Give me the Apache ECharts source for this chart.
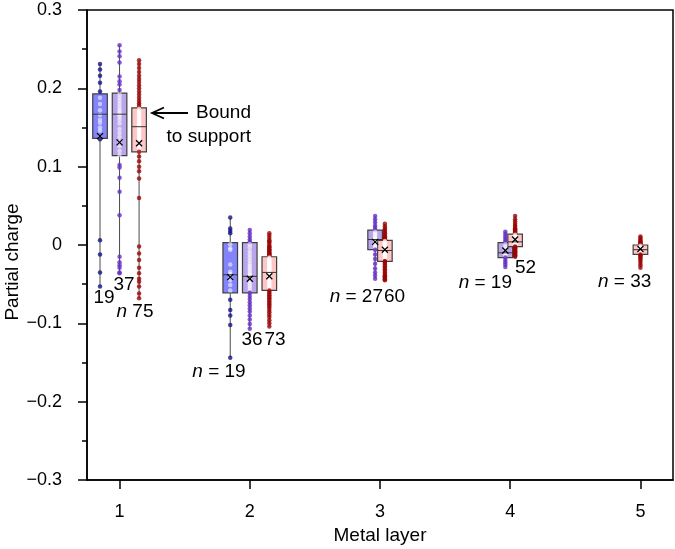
<!DOCTYPE html>
<html><head><meta charset="utf-8">
<script src="https://cdn.jsdelivr.net/npm/echarts@6/dist/echarts.min.js"></script>
<style>html,body{margin:0;padding:0;background:#fff}#c{width:675px;height:549px}</style>
</head><body><div id="c"></div><script>
// ---- data ----
const layerTicks = [1, 2, 3, 4, 5];
const yTicks = [-0.3, -0.2, -0.1, 0, 0.1, 0.2, 0.3];

// stats: [min, Q1, median, Q3, max, mean]
const blue1Stats   = [-0.053, 0.136, 0.167, 0.193, 0.231, 0.139];
const purple1Stats = [-0.036, 0.114, 0.167, 0.194, 0.255, 0.131];
const red1Stats    = [-0.068, 0.119, 0.151, 0.175, 0.236, 0.130];
const blue2Stats   = [-0.144, -0.061, -0.038, 0.003, 0.035, -0.041];
const purple2Stats = [-0.107, -0.061, -0.040, 0.003, 0.019, -0.043];
const red2Stats    = [-0.104, -0.058, -0.035, -0.015, 0.015, -0.040];
const purple3Stats = [-0.043, -0.006, 0.007, 0.019, 0.037, 0.004];
const red3Stats    = [-0.045, -0.021, -0.007, 0.006, 0.027, -0.006];
const purple4Stats = [-0.028, -0.016, -0.010, 0.003, 0.017, -0.007];
const red4Stats    = [-0.015, -0.002, 0.004, 0.014, 0.037, 0.007];
const red5Stats    = [-0.029, -0.012, -0.006, 0.000, 0.011, -0.005];

// individual points
const blue1 = [0.231,0.224,0.216,0.207,0.196,0.188,0.180,0.172,0.166,0.160,0.156,0.150,0.146,0.138,0.135,0.006,-0.012,-0.035,-0.053];
const purple1 = [0.255,0.247,0.241,0.233,0.215,0.209,0.205,0.198,
  0.192,0.188,0.184,0.180,0.176,0.172,0.169,0.167,0.164,0.160,0.155,0.148,0.143,0.138,0.132,0.126,0.120,0.115,
  0.102,0.099,0.086,0.068,0.038,-0.015,-0.022,-0.026,-0.029,-0.035,-0.036];
const red1 = [0.236,0.231,0.226,0.221,0.216,0.212,0.208,0.204,0.200,0.196,0.192,0.188,0.184,0.181,0.178,
  0.175,0.174,0.173,0.171,0.170,0.169,0.167,0.166,0.165,0.163,0.162,0.161,0.159,0.158,0.157,0.156,0.155,0.154,0.153,0.152,0.151,
  0.150,0.149,0.148,0.147,0.146,0.145,0.144,0.143,0.141,0.139,0.138,0.137,0.135,0.133,0.131,0.130,0.129,0.127,0.125,0.123,0.121,0.120,0.119,
  0.113,0.107,0.100,0.094,0.085,0.060,-0.002,-0.011,-0.019,-0.029,-0.036,-0.043,-0.047,-0.053,-0.062,-0.068];
const blue2 = [0.035,0.021,0.018,0.015,0.001,-0.004,-0.006,-0.025,-0.034,-0.037,-0.041,-0.045,-0.051,-0.058,-0.070,-0.083,-0.090,-0.102,-0.144];
const purple2 = [0.019,0.015,0.011,0.007,0.004,0.001,-0.003,-0.008,-0.012,-0.016,-0.020,-0.024,-0.027,-0.030,-0.033,-0.036,-0.038,-0.040,
  -0.041,-0.043,-0.046,-0.049,-0.052,-0.055,-0.058,-0.061,-0.065,-0.069,-0.073,-0.077,-0.081,-0.085,-0.090,-0.095,-0.101,-0.107];
const red2 = [0.015,0.012,0.009,0.006,0.004,0.003,0.000,-0.002,-0.003,-0.005,-0.006,-0.007,-0.009,-0.010,-0.011,-0.012,-0.013,-0.014,
  -0.015,-0.016,-0.017,-0.018,-0.019,-0.020,-0.021,-0.022,-0.023,-0.024,-0.025,-0.026,-0.027,-0.028,-0.029,-0.030,-0.031,-0.032,-0.033,-0.034,
  -0.035,-0.036,-0.037,-0.038,-0.040,-0.041,-0.043,-0.044,-0.046,-0.047,-0.049,-0.050,-0.052,-0.053,-0.055,-0.056,-0.058,
  -0.060,-0.062,-0.064,-0.066,-0.068,-0.070,-0.072,-0.074,-0.076,-0.078,-0.080,-0.083,-0.086,-0.089,-0.092,-0.096,-0.100,-0.104];
const purple3 = [0.037,0.033,0.029,0.025,0.022,0.019,0.017,0.015,0.013,0.011,0.009,0.008,0.007,0.006,0.004,0.002,0.000,-0.002,-0.004,-0.006,
  -0.012,-0.018,-0.024,-0.030,-0.035,-0.039,-0.043];
const red3 = [0.027,0.024,0.021,0.019,0.017,0.015,0.013,0.011,0.010,0.009,0.008,0.007,0.007,0.006,0.006,
  0.005,0.004,0.003,0.002,0.001,0.000,-0.001,-0.002,-0.003,-0.004,-0.005,-0.006,-0.007,-0.007,-0.008,-0.009,-0.010,-0.011,-0.012,-0.013,
  -0.014,-0.015,-0.016,-0.017,-0.018,-0.019,-0.020,-0.021,-0.021,-0.021,
  -0.023,-0.025,-0.027,-0.029,-0.031,-0.033,-0.035,-0.037,-0.039,-0.040,-0.041,-0.042,-0.043,-0.044,-0.045];
const purple4 = [0.017,0.014,0.011,0.008,0.005,0.003,0.001,-0.002,-0.005,-0.008,-0.010,-0.011,-0.013,-0.014,-0.016,-0.019,-0.022,-0.025,-0.028];
const red4 = [0.037,0.033,0.030,0.027,0.025,0.023,0.021,0.020,0.019,0.018,0.017,0.016,0.015,
  0.014,0.013,0.012,0.011,0.010,0.009,0.008,0.007,0.007,0.006,0.006,0.005,0.005,0.004,0.004,0.003,0.003,0.002,0.002,0.001,0.001,0.000,0.000,-0.001,-0.001,-0.002,
  -0.003,-0.004,-0.005,-0.006,-0.007,-0.008,-0.009,-0.010,-0.011,-0.012,-0.013,-0.014,-0.015];
const red5 = [0.011,0.009,0.007,0.005,0.004,0.003,0.002,0.001,
  0.000,-0.001,-0.002,-0.003,-0.004,-0.004,-0.005,-0.005,-0.006,-0.006,-0.007,-0.008,-0.009,-0.010,-0.011,-0.011,-0.012,
  -0.013,-0.014,-0.016,-0.018,-0.020,-0.023,-0.026,-0.029];

// ---- styles ----
const palette = {
  blue:   {dot: '#14148a', box: '#8383fb'},
  purple: {dot: '#6630c4', box: '#b9a6ea'},
  red:    {dot: '#9c0505', box: '#ffc6c6'}
};
const groups = [
  {layer: 1, kind: 'blue', pts: blue1, st: blue1Stats},
  {layer: 1, kind: 'purple', pts: purple1, st: purple1Stats},
  {layer: 1, kind: 'red', pts: red1, st: red1Stats},
  {layer: 2, kind: 'blue', pts: blue2, st: blue2Stats},
  {layer: 2, kind: 'purple', pts: purple2, st: purple2Stats},
  {layer: 2, kind: 'red', pts: red2, st: red2Stats},
  {layer: 3, kind: 'purple', pts: purple3, st: purple3Stats},
  {layer: 3, kind: 'red', pts: red3, st: red3Stats},
  {layer: 4, kind: 'purple', pts: purple4, st: purple4Stats},
  {layer: 4, kind: 'red', pts: red4, st: red4Stats},
  {layer: 5, kind: 'red', pts: red5, st: red5Stats}
];
const kinds = ['blue', 'purple', 'red'];
const STEP = 0.15, BOXW = 0.112;
groups.forEach(g => {
  const same = groups.filter(o => o.layer === g.layer);
  const idx = same.indexOf(g);
  const step = same.length === 2 ? STEP / 2 : STEP;
  g.x = g.layer + (idx - (same.length - 1) / 2) * step;
});

const boxData = groups.map(g => [g.x].concat(g.st).concat([kinds.indexOf(g.kind)]));

function renderBox(params, api) {
  const x = api.value(0);
  const pMin = api.coord([x, api.value(1)]);
  const pQ1 = api.coord([x, api.value(2)]);
  const pQ3 = api.coord([x, api.value(4)]);
  const pMax = api.coord([x, api.value(5)]);
  const w = api.size([BOXW, 0])[0];
  const c = palette[kinds[api.value(7)]];
  return {type: 'group', children: [
    {type: 'line', shape: {x1: pMin[0], y1: pMin[1], x2: pMax[0], y2: pMax[1]}, style: {stroke: '#4a4a4a', lineWidth: 1}},
    {type: 'rect', shape: {x: pQ3[0] - w / 2, y: pQ3[1], width: w, height: pQ1[1] - pQ3[1]},
      style: {fill: c.box, stroke: '#404040', lineWidth: 1.2}}
  ]};
}
function renderMid(params, api) {
  const x = api.value(0);
  const pMed = api.coord([x, api.value(3)]);
  const pMean = api.coord([x, api.value(6)]);
  const w = api.size([BOXW, 0])[0];
  const s = 3;
  return {type: 'group', children: [
    {type: 'line', shape: {x1: pMed[0] - w / 2, y1: pMed[1], x2: pMed[0] + w / 2, y2: pMed[1]}, style: {stroke: '#333', lineWidth: 1}},
    {type: 'line', shape: {x1: pMean[0] - s, y1: pMean[1] - s, x2: pMean[0] + s, y2: pMean[1] + s}, style: {stroke: '#000', lineWidth: 1.3}},
    {type: 'line', shape: {x1: pMean[0] - s, y1: pMean[1] + s, x2: pMean[0] + s, y2: pMean[1] - s}, style: {stroke: '#000', lineWidth: 1.3}}
  ]};
}

const scatterSeries = groups.map(g => ({
  type: 'scatter', symbol: 'circle', symbolSize: 4.5, z: 3, silent: true,
  data: g.pts.map(v => ({
    value: [g.x, v],
    itemStyle: {color: (v > g.st[1] && v < g.st[3]) ? 'rgba(255,255,255,0.7)' : palette[g.kind].dot}
  }))
}));

const FONT = '"Liberation Sans", Arial, Helvetica, sans-serif';
const chart = echarts.init(document.getElementById('c'), null, {renderer: 'canvas'});
const fmtY = v => {
  const r = Math.round(v * 10) / 10;
  if (r === 0) return '0';
  return (r < 0 ? '\u2212' : '') + Math.abs(r).toFixed(1);
};
const txt = (text, x, y, align) => ({
  type: 'text', x: x, y: y, z: 10,
  style: {text: text, fill: '#000', font: '19px ' + FONT, align: align || 'center', verticalAlign: 'middle',
    rich: {i: {fontStyle: 'italic', fontSize: 19, fontFamily: FONT}, r: {fontSize: 19, fontFamily: FONT}}}
});

chart.setOption({
  animation: false,
  backgroundColor: '#fff',
  grid: {left: 87, right: 2, top: 10, bottom: 69, show: true, borderColor: '#000', borderWidth: 1.5, backgroundColor: 'transparent'},
  xAxis: {
    type: 'value', min: 0.75, max: 5.25,
    axisLine: {show: true, onZero: false, lineStyle: {color: '#000', width: 1.5}},
    axisTick: {show: true, inside: false, length: 9, lineStyle: {color: '#000', width: 1.5}, customValues: layerTicks},
    axisLabel: {show: true, margin: 23, color: '#000', fontSize: 18, fontFamily: FONT, customValues: layerTicks,
      formatter: v => String(Math.round(v))},
    splitLine: {show: false}
  },
  yAxis: {
    type: 'value', min: -0.3, max: 0.3, interval: 0.1,
    axisLine: {show: true, onZero: false, lineStyle: {color: '#000', width: 1.5}},
    axisTick: {show: true, length: 9, lineStyle: {color: '#000', width: 1.5}},
    minorTick: {show: true, splitNumber: 2, length: 5, lineStyle: {color: '#000', width: 1.5}},
    axisLabel: {show: true, margin: 25, color: '#000', fontSize: 18, fontFamily: FONT, formatter: fmtY},
    splitLine: {show: false}
  },
  series: [
    {type: 'custom', renderItem: renderBox, data: boxData, z: 2, silent: true,
      encode: {x: 0, y: [1, 5]}},
  ].concat(scatterSeries).concat([
    {type: 'custom', renderItem: renderMid, data: boxData, z: 4, silent: true,
      encode: {x: 0, y: [3, 6]}}
  ]),
  graphic: [
    {type: 'text', x: 13, y: 262, rotation: Math.PI / 2, z: 10,
      style: {text: 'Partial charge', fill: '#000', font: '19px ' + FONT, align: 'center', verticalAlign: 'middle'}},
    {type: 'text', x: 380, y: 536, z: 10,
      style: {text: 'Metal layer', fill: '#000', font: '19px ' + FONT, align: 'center', verticalAlign: 'middle'}},
    txt('19', 104, 298),
    txt('37', 124, 285),
    txt('{i|n} {r|75}', 135, 312),
    txt('{i|n} {r|= 19}', 219, 372),
    txt('36', 252, 340),
    txt('73', 275, 340),
    txt('{i|n} {r|= 27}', 383, 297, 'right'),
    txt('60', 384, 297, 'left'),
    txt('{i|n} {r|= 19}', 512, 283, 'right'),
    txt('52', 515, 268, 'left'),
    txt('{i|n} {r|= 33}', 598, 282, 'left'),
    txt('Bound', 251, 113, 'right'),
    txt('to support', 251, 137, 'right'),
    {type: 'line', z: 10, shape: {x1: 153, y1: 113, x2: 188, y2: 113}, style: {stroke: '#000', lineWidth: 1.8}},
    {type: 'polyline', z: 10, shape: {points: [[164, 107.5], [152, 113], [164, 118.5]]}, style: {stroke: '#000', lineWidth: 1.8, fill: null}}
  ]
});
</script></body></html>
